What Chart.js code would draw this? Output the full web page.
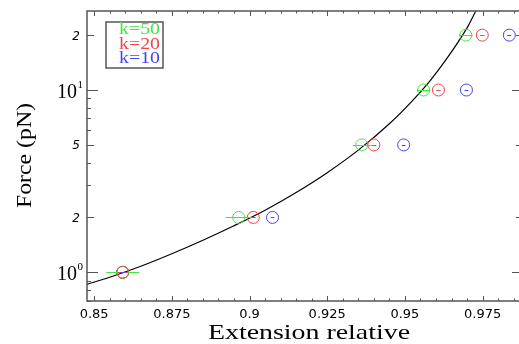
<!DOCTYPE html>
<html>
<head>
<meta charset="utf-8">
<script src="https://cdn.jsdelivr.net/npm/chart.js@4.4.1/dist/chart.umd.min.js"></script>
<style>
    html, body { margin: 0; padding: 0; background: #fff; overflow: hidden; }
    #wrap { position: relative; width: 519px; height: 344px; overflow: hidden; }
    #wrap canvas { position: absolute; left: 0; top: 0; }
</style>
</head>
<body>
<div id="wrap"><canvas id="chart" width="530" height="344" style="width:530px;height:344px"></canvas></div>
<script>
// measured force steps (pN) and relative extension for each stiffness
const forces = [1, 2, 5, 10, 20];
const ext50 = [0.8592, 0.8965, 0.9361, 0.9560, 0.9696];
const ext20 = [0.8592, 0.9012, 0.9400, 0.9608, 0.9749];
const ext10 = [0.8592, 0.9074, 0.9496, 0.9698, 0.9836];
const err50 = [0.0053, 0.0042, 0.0029, 0.0022, 0.0022];
const err20 = [0.0016, 0.0008, 0.0008, 0.0007, 0.0007];
const err10 = [0.0008, 0.0006, 0.0006, 0.0006, 0.0006];

// model curve
const fitExt = [0.8477, 0.855, 0.865, 0.875, 0.885, 0.895, 0.905, 0.915, 0.925, 0.935, 0.945, 0.952, 0.958, 0.963, 0.967, 0.9705, 0.9728];
const fitForce = [0.859, 0.94, 1.08, 1.265, 1.50, 1.80, 2.19, 2.74, 3.52, 4.68, 6.53, 8.59, 11.2, 14.5, 18.2, 22.7, 27.1];

const seriesLabels = ['k=50', 'k=20', 'k=10'];
const xTicks = [0.85, 0.875, 0.9, 0.925, 0.95, 0.975];
const xTickLabels = ['0.85', '0.875', '0.9', '0.925', '0.95', '0.975'];
const yTicks = [1, 2, 5, 10, 20];
const yTickLabels = ['10^0', '2', '5', '10^1', '2'];

const COLORS = ['#45e445', '#f04545', '#4545f0'];
const DRAW_ORDER = [1, 0, 2];
const SERIF = '"Liberation Serif", "Times New Roman", serif';
const SANS = '"DejaVu Sans", sans-serif';

const extSeries = [ext50, ext20, ext10];
const errSeries = [err50, err20, err10];

function fitText(ctx, text, x, y, width, align) {
    const s = width / ctx.measureText(text).width;
    ctx.save();
    ctx.translate(x, y);
    ctx.scale(s, 1);
    ctx.textAlign = align;
    ctx.fillText(text, 0, 0);
    ctx.restore();
}

function line(ctx, x1, y1, x2, y2) {
    ctx.beginPath();
    ctx.moveTo(x1, y1);
    ctx.lineTo(x2, y2);
    ctx.stroke();
}

const axesPlugin = {
    id: 'axes',
    afterDatasetsDraw(chart) {
        const { ctx, chartArea: a, scales: { x, y } } = chart;
        ctx.save();

        // horizontal error bars
        ctx.lineWidth = 1;
        extSeries.forEach((ext, s) => {
            ctx.strokeStyle = COLORS[s];
            ext.forEach((v, i) => {
                const py = Math.round(y.getPixelForValue(forces[i])) + 0.5;
                line(ctx, x.getPixelForValue(v - errSeries[s][i]), py, x.getPixelForValue(v + errSeries[s][i]), py);
            });
        });

        // frame
        ctx.strokeStyle = '#555';
        ctx.lineWidth = 1.5;
        ctx.strokeRect(a.left, a.top, a.right - a.left, a.bottom - a.top);

        // x ticks, top and bottom
        ctx.lineWidth = 1;
        for (let i = 0; i <= 27; i++) {
            const v = 0.85 + i * 0.005;
            const px = Math.round(x.getPixelForValue(v)) + 0.5;
            const len = i % 5 === 0 ? 5 : 2.5;
            line(ctx, px, a.bottom, px, a.bottom - len);
            line(ctx, px, a.top, px, a.top + len);
        }

        // y ticks, left and right
        const minorY = [0.7, 0.8, 0.9, 1, 2, 3, 4, 5, 6, 7, 8, 9, 10, 20];
        minorY.forEach((v) => {
            const py = Math.round(y.getPixelForValue(v)) + 0.5;
            let len = 4;
            if (v === 1 || v === 10) len = 11;
            else if (v === 2 || v === 5 || v === 20) len = 7;
            line(ctx, a.left, py, a.left + len, py);
            line(ctx, a.right, py, a.right - len, py);
        });

        // x tick labels
        ctx.fillStyle = '#000';
        ctx.font = '13px ' + SANS;
        ctx.textAlign = 'center';
        ctx.textBaseline = 'alphabetic';
        xTicks.forEach((v, i) => {
            ctx.fillText(xTickLabels[i], x.getPixelForValue(v), a.bottom + 16.5);
        });

        // y tick labels
        yTicks.forEach((v, i) => {
            const py = y.getPixelForValue(v);
            const label = yTickLabels[i];
            if (label.includes('^')) {
                const [base, exp] = label.split('^');
                ctx.font = '20px ' + SERIF;
                ctx.textAlign = 'right';
                ctx.fillText(base, 77, py + 8);
                ctx.font = '11px ' + SERIF;
                ctx.textAlign = 'left';
                ctx.fillText(exp, 77.5, py - 2.5);
            } else {
                ctx.font = 'italic 12px ' + SANS;
                ctx.textAlign = 'right';
                ctx.fillText(label, 80, py + 4.5);
            }
        });

        // axis titles
        ctx.font = '21px ' + SERIF;
        fitText(ctx, 'Extension relative', 309, 339, 202, 'center');
        ctx.save();
        ctx.translate(31, 155.5);
        ctx.rotate(-Math.PI / 2);
        fitText(ctx, 'Force (pN)', 0, 0, 105, 'center');
        ctx.restore();

        // legend box
        ctx.strokeStyle = '#555';
        ctx.lineWidth = 1.5;
        ctx.strokeRect(106, 22, 57, 46);
        ctx.font = '16px ' + SERIF;
        seriesLabels.forEach((label, i) => {
            ctx.fillStyle = COLORS[i];
            fitText(ctx, label, 160, 34 + i * 14.5, 41, 'right');
        });

        ctx.restore();
    },
};

const datasets = extSeries.map((ext, s) => ({
    label: seriesLabels[s],
    data: ext.map((v, i) => ({ x: v, y: forces[i] })),
    order: DRAW_ORDER[s],
    showLine: false,
    pointStyle: 'circle',
    pointRadius: 6,
    pointBorderWidth: 1,
    pointBorderColor: COLORS[s],
    pointBackgroundColor: 'rgba(0,0,0,0)',
}));

datasets.push({
    label: 'fit',
    data: fitExt.map((v, i) => ({ x: v, y: fitForce[i] })),
    order: 3,
    showLine: true,
    borderColor: '#000',
    borderWidth: 1.2,
    pointRadius: 0,
    cubicInterpolationMode: 'monotone',
});

new Chart(document.getElementById('chart'), {
    type: 'scatter',
    data: { datasets },
    options: {
        responsive: false,
        animation: false,
        events: [],
        layout: { padding: { left: 87, top: 11, right: 3, bottom: 43 } },
        plugins: { legend: { display: false }, tooltip: { enabled: false } },
        scales: {
            x: { type: 'linear', min: 0.8477, max: 0.988, display: false },
            y: { type: 'logarithmic', min: 0.696, max: 27.13, display: false },
        },
    },
    plugins: [axesPlugin],
});
</script>
</body>
</html>
